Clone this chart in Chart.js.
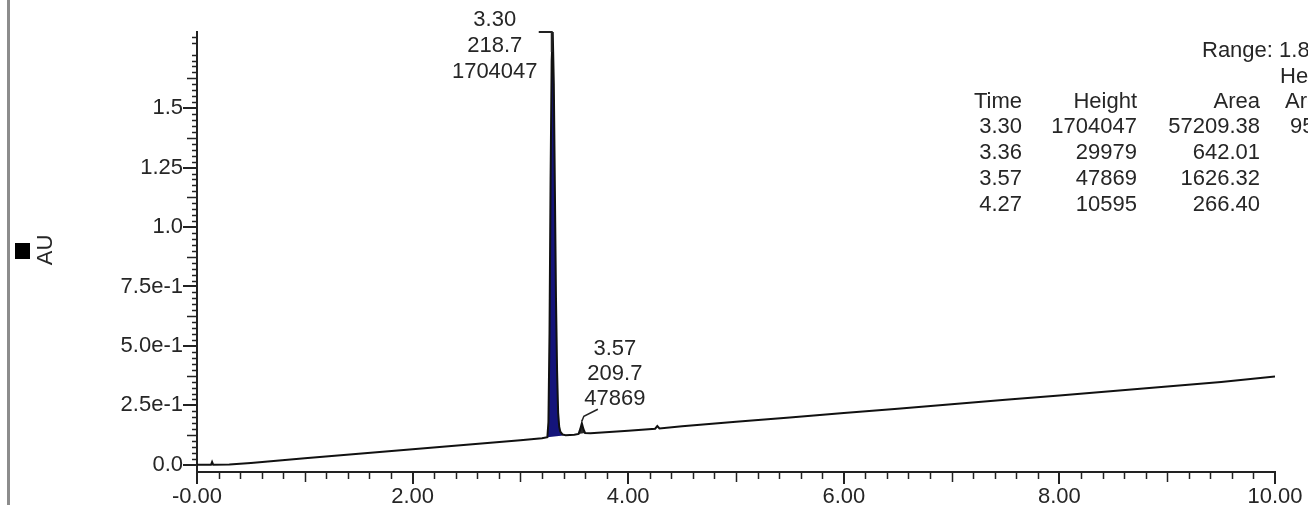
<!DOCTYPE html>
<html>
<head>
<meta charset="utf-8">
<script src="https://cdn.jsdelivr.net/npm/chart.js@4.4.1/dist/chart.umd.min.js"></script>
<style>
  html, body { margin: 0; padding: 0; background: #fff; overflow: hidden; }
  #wrap { width: 1308px; height: 505px; position: relative; }
</style>
</head>
<body>
<div id="wrap"><canvas id="chrom"></canvas></div>
<script>
// trace (minutes, AU)
var traceTime = [0, 0.10, 0.13, 0.14, 0.15, 0.30, 0.50, 1.00, 1.50, 2.00, 2.50, 3.00, 3.20, 3.25,
    3.26, 3.27, 3.28, 3.29, 3.30, 3.31, 3.32, 3.33, 3.34, 3.35, 3.36, 3.37, 3.39, 3.42,
    3.50, 3.54, 3.555, 3.57, 3.585, 3.60, 3.65, 4.00, 4.25, 4.27, 4.29, 4.50,
    5.00, 5.50, 6.00, 6.50, 7.00, 7.50, 8.00, 8.50, 9.00, 9.50, 10.00];
var traceAU = [0.000, 0.000, 0.000, 0.012, 0.001, 0.002, 0.008, 0.028, 0.047, 0.066, 0.085, 0.104, 0.112, 0.116,
    0.180, 0.550, 1.200, 1.700, 1.820, 1.600, 1.150, 0.700, 0.400, 0.220, 0.160, 0.140, 0.128, 0.125,
    0.127, 0.130, 0.150, 0.175, 0.150, 0.134, 0.133, 0.143, 0.152, 0.163, 0.153, 0.162,
    0.181, 0.199, 0.218, 0.236, 0.255, 0.274, 0.292, 0.311, 0.329, 0.348, 0.372];

// integration baselines under the two labelled peaks
var mainBaseTime = [3.25, 3.42];
var mainBaseAU = [0.116, 0.125];
var minorBaseTime = [3.54, 3.60];
var minorBaseAU = [0.130, 0.134];

// axis ticks
var xTickValues = [0, 2, 4, 6, 8, 10];
var xTickLabels = ['-0.00', '2.00', '4.00', '6.00', '8.00', '10.00'];
var yTickValues = [0, 0.25, 0.5, 0.75, 1.0, 1.25, 1.5];
var yTickLabels = ['0.0', '2.5e-1', '5.0e-1', '7.5e-1', '1.0', '1.25', '1.5'];

// peak labels
var annTime = [3.30, 3.57];
var annText = ['3.30', '3.57'];
var annLambda = ['218.7', '209.7'];
var annHeight = ['1704047', '47869'];

// peak table
var tableTime = ['3.30', '3.36', '3.57', '4.27'];
var tableHeight = ['1704047', '29979', '47869', '10595'];
var tableArea = ['57209.38', '642.01', '1626.32', '266.40'];
var tablePctArea = ['95.76'];

var FONT = "'Liberation Sans', Arial, sans-serif";
var INK = '#262626';

function pts(times, values, t0, t1) {
    var out = [];
    for (var i = 0; i < times.length; i++) {
        if (times[i] >= t0 && times[i] <= t1) out.push({ x: times[i], y: values[i] });
    }
    return out;
}

function apexOf(t) {
    var idx = traceTime.indexOf(t);
    return idx >= 0 ? traceAU[idx] : 0;
}

// frame, minor ticks, axis title, peak labels and table
var decor = {
    id: 'decor',
    afterDraw: function (chart) {
        var ctx = chart.ctx;
        var xs = chart.scales.x, ys = chart.scales.y;
        var area = chart.chartArea;
        ctx.save();

        // grey frame line on the left
        ctx.fillStyle = '#8c8c8c';
        ctx.fillRect(7, 0, 3, 505);

        // minor ticks
        ctx.strokeStyle = '#222';
        ctx.lineWidth = 1.5;
        ctx.beginPath();
        for (var i = 1; i <= 50; i++) {
            if (i % 10 === 0) continue;
            var xp = Math.round(xs.getPixelForValue(i * 0.2)) + 0.5;
            var len = (i % 5 === 0) ? 10 : 7;
            ctx.moveTo(xp, area.bottom);
            ctx.lineTo(xp, area.bottom + len);
        }
        for (var j = 1; j <= 72; j++) {
            if (j % 10 === 0) continue;
            var yp = Math.round(ys.getPixelForValue(j * 0.025)) + 0.5;
            var l2 = (j % 5 === 0) ? 10 : 5;
            ctx.moveTo(area.left, yp);
            ctx.lineTo(area.left - l2, yp);
        }
        ctx.stroke();

        // axis title
        ctx.fillStyle = '#000';
        ctx.fillRect(15, 243, 15, 16);
        ctx.save();
        ctx.translate(52, 250);
        ctx.rotate(-Math.PI / 2);
        ctx.font = '22px ' + FONT;
        ctx.fillStyle = INK;
        ctx.textAlign = 'center';
        ctx.textBaseline = 'alphabetic';
        ctx.fillText('AU', 0, 0);
        ctx.restore();

        ctx.font = '22px ' + FONT;
        ctx.fillStyle = INK;
        ctx.textBaseline = 'alphabetic';
        ctx.strokeStyle = '#222';
        ctx.lineWidth = 2;

        // peak 3.30 : label left of the peak with a bracket
        var px = xs.getPixelForValue(annTime[0]);
        var top = ys.getPixelForValue(apexOf(annTime[0]));
        ctx.textAlign = 'center';
        ctx.fillText(annText[0], px - 58, top - 6);
        ctx.fillText(annLambda[0], px - 58, top + 20);
        ctx.fillText(annHeight[0], px - 58, top + 46);
        ctx.beginPath();
        ctx.moveTo(px - 14, top);
        ctx.lineTo(px - 1, top);
        ctx.lineTo(px - 1, top + 20);
        ctx.stroke();

        // peak 3.57 : label up and right with a leader
        var px2 = xs.getPixelForValue(annTime[1]);
        var top2 = ys.getPixelForValue(apexOf(annTime[1]));
        ctx.fillText(annText[1], px2 + 33, top2 - 68);
        ctx.fillText(annLambda[1], px2 + 33, top2 - 43);
        ctx.fillText(annHeight[1], px2 + 33, top2 - 18);
        ctx.lineWidth = 1.5;
        ctx.beginPath();
        ctx.moveTo(px2, top2 - 2);
        ctx.lineTo(px2 + 2, top2 - 7);
        ctx.lineTo(px2 + 16, top2 - 14);
        ctx.stroke();

        // peak table
        ctx.textAlign = 'left';
        ctx.fillText('Range: 1.820', 1202, 57);
        ctx.fillText('Height', 1280, 83);
        ctx.fillText('Area', 1285, 108);
        ctx.textAlign = 'right';
        ctx.fillText('Time', 1022, 108);
        ctx.fillText('Height', 1137, 108);
        ctx.fillText('Area', 1260, 108);
        for (var r = 0; r < tableTime.length; r++) {
            var by = 133 + r * 26;
            ctx.fillText(tableTime[r], 1022, by);
            ctx.fillText(tableHeight[r], 1137, by);
            ctx.fillText(tableArea[r], 1260, by);
        }
        ctx.textAlign = 'left';
        ctx.fillText(tablePctArea[0], 1290, 133);

        ctx.restore();
    }
};

Chart.defaults.font.family = FONT;
Chart.defaults.font.size = 22;
Chart.defaults.color = INK;

var ctx = document.getElementById('chrom').getContext('2d');
var chart = new Chart(ctx, {
    type: 'line',
    data: {
        datasets: [{
            data: pts(traceTime, traceAU, 0, 10),
            borderColor: '#111',
            borderWidth: 2,
            pointRadius: 0,
            tension: 0,
            fill: false,
            order: 0
        }, {
            data: pts(traceTime, traceAU, mainBaseTime[0], mainBaseTime[1]),
            borderColor: 'transparent',
            borderWidth: 0,
            backgroundColor: '#14147a',
            pointRadius: 0,
            fill: { target: 2 },
            order: 2
        }, {
            data: pts(mainBaseTime, mainBaseAU, 0, 10),
            borderColor: 'transparent',
            borderWidth: 0,
            pointRadius: 0,
            fill: false,
            order: 3
        }, {
            data: pts(traceTime, traceAU, minorBaseTime[0], minorBaseTime[1]),
            borderColor: 'transparent',
            borderWidth: 0,
            backgroundColor: '#2a2a2a',
            pointRadius: 0,
            fill: { target: 4 },
            order: 2
        }, {
            data: pts(minorBaseTime, minorBaseAU, 0, 10),
            borderColor: 'transparent',
            borderWidth: 0,
            pointRadius: 0,
            fill: false,
            order: 3
        }]
    },
    options: {
        responsive: true,
        maintainAspectRatio: false,
        animation: false,
        layout: { padding: { left: 0, top: 32, right: 33, bottom: 0 } },
        plugins: { legend: { display: false }, tooltip: { enabled: false } },
        scales: {
            x: {
                type: 'linear',
                min: 0,
                max: 10,
                border: { display: true, color: '#222', width: 2 },
                grid: { drawOnChartArea: false, drawTicks: true, tickLength: 12, color: '#222', lineWidth: 2 },
                ticks: {
                    autoSkip: false,
                    maxRotation: 0,
                    padding: 0,
                    callback: function (v, i) { return xTickLabels[i]; }
                },
                afterBuildTicks: function (s) {
                    s.ticks = xTickValues.map(function (v) { return { value: v }; });
                },
                afterFit: function (s) { s.height = 33; }
            },
            y: {
                type: 'linear',
                min: -0.03,
                max: 1.82,
                border: { display: true, color: '#222', width: 2 },
                grid: { drawOnChartArea: false, drawTicks: true, tickLength: 14, color: '#222', lineWidth: 2 },
                ticks: {
                    autoSkip: false,
                    padding: 0,
                    callback: function (v, i) { return yTickLabels[i]; }
                },
                afterBuildTicks: function (s) {
                    s.ticks = yTickValues.map(function (v) { return { value: v }; });
                },
                afterFit: function (s) { s.width = 197; }
            }
        }
    },
    plugins: [decor]
});
</script>
</body>
</html>
